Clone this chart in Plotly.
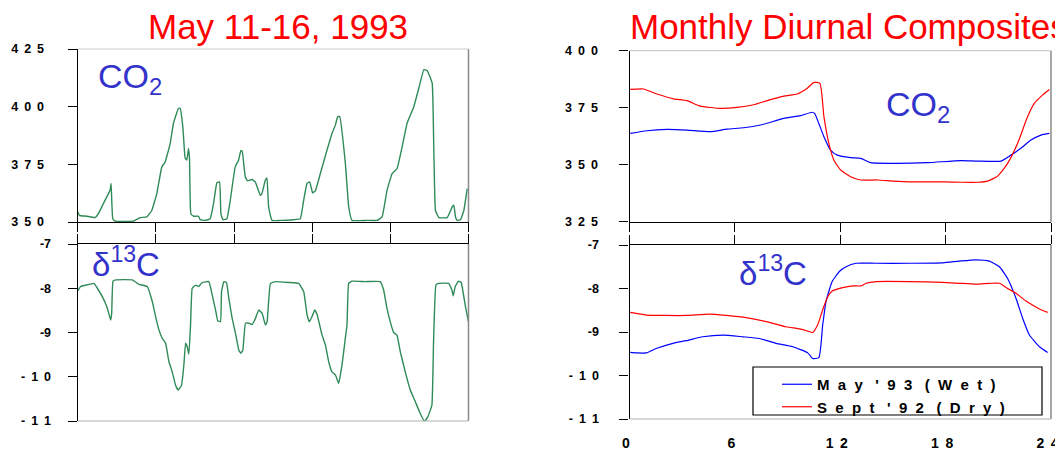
import plotly.graph_objects as go

# ---------------- data ----------------
# Left: May 11-16, 1993 time series (hours since start of May 11)
co2_hours = [0, 0.51, 2.77, 5.33, 6.35, 7.89, 9.94, 10.25, 10.76, 11.48, 17.11, 19.16, 21.21, 22.75,
             24.29, 25.83, 26.85, 28.39, 29.41, 30.95, 31.46, 32.28, 33.0, 33.51, 34.03, 34.33, 34.74,
             35.56, 37.1, 37.61, 39.15, 40.69, 41.71, 42.74, 43.56, 43.97, 44.58, 45.81, 46.84, 48.37,
             49.4, 50.11, 50.53, 51.45, 52.16, 53.5, 54.52, 56.06, 56.57, 57.6, 58.11, 58.62, 59.65,
             62.21, 66.31, 68.36, 69.38, 70.41, 71.23, 72.15, 72.97, 74.51, 76.56, 78.09, 79.12, 79.84,
             80.45, 82.19, 83.22, 84.24, 88.85, 91.93, 93.47, 95.0, 96.54, 98.08, 99.62, 101.15, 103.2,
             104.74, 106.28, 107.3, 108.84, 109.35, 109.86, 110.89, 113.45, 114.99, 115.5, 116.01,
             116.52, 117.55, 118.57, 119.6]
co2_may = [354.4, 352.9, 352.5, 351.9, 353.6, 358.0, 363.8, 366.7, 351.5, 350.4, 350.4, 351.9, 352.2, 355.0,
           362.3, 373.9, 376.0, 384.0, 392.8, 399.3, 399.3, 391.3, 377.6, 376.8, 381.9, 377.6, 353.6,
           352.5, 352.5, 351.0, 350.7, 351.4, 358.0, 367.0, 367.4, 353.6, 351.0, 351.4, 359.4, 373.9,
           376.8, 381.0, 380.6, 369.6, 367.8, 368.4, 367.4, 361.6, 362.3, 368.1, 369.1, 356.5, 350.7,
           350.7, 351.0, 351.4, 359.4, 366.7, 367.4, 362.6, 363.5, 371.0, 381.2, 388.4, 392.0, 395.7,
           395.7, 375.4, 356.5, 350.7, 350.7, 350.7, 352.2, 363.8, 371.0, 373.2, 382.6, 392.8, 400.0,
           408.0, 416.0, 415.7, 410.2, 381.2, 355.0, 351.9, 351.9, 356.5, 357.3, 352.2, 350.7,
           351.0, 355.0, 364.5]

d13c_hours = [0, 0.92, 2.45, 5.01, 6.03, 7.56, 9.10, 10.12, 10.43, 10.84, 11.65, 16.76, 18.81, 21.36,
              22.90, 23.92, 24.94, 25.96, 26.99, 28.01, 29.03, 30.05, 30.87, 31.89, 32.61, 33.12, 33.63,
              34.14, 34.65, 35.16, 36.19, 37.21, 38.23, 40.27, 41.30, 42.32, 43.03, 43.85, 44.16, 44.87,
              45.69, 46.41, 47.43, 48.45, 49.47, 50.09, 50.70, 51.52, 52.54, 53.56, 54.58, 55.61, 56.63,
              57.65, 58.16, 59.18, 60.72, 64.81, 67.87, 69.41, 70.43, 71.14, 71.96, 72.78, 73.49, 75.03,
              76.05, 77.07, 78.09, 79.12, 80.14, 81.16, 82.18, 82.69, 83.21, 84.23, 88.32, 92.92, 93.94,
              94.96, 95.98, 97.01, 98.03, 99.05, 100.58, 102.12, 103.65, 105.18, 106.51, 107.53, 108.76,
              109.27, 109.99, 110.81, 113.87, 114.89, 115.30, 115.92, 116.94, 117.76, 118.98, 120.0]
d13c_may = [-8.06, -7.96, -7.93, -7.89, -8.0, -8.19, -8.45, -8.72, -8.57, -7.84, -7.81, -7.81, -7.91, -7.96,
            -8.30, -8.64, -8.94, -9.13, -9.24, -9.66, -9.89, -10.19, -10.30, -10.19, -9.73, -9.24, -9.32,
            -9.49, -8.83, -8.0, -7.93, -7.96, -7.87, -7.85, -8.15, -8.49, -8.74, -8.75, -8.08, -7.85,
            -7.87, -8.23, -8.68, -9.02, -9.40, -9.47, -9.40, -8.79, -8.79, -8.82, -8.68, -8.49, -8.57,
            -8.83, -8.76, -7.89, -7.85, -7.87, -7.89, -8.08, -8.60, -8.76, -8.64, -8.49, -8.59, -9.06,
            -9.28, -9.66, -9.89, -9.96, -10.15, -9.73, -9.13, -8.83, -7.89, -7.84, -7.85, -7.85, -8.04,
            -8.45, -8.76, -9.0, -9.06, -9.43, -9.89, -10.30, -10.56, -10.83, -11.01, -10.90, -10.64,
            -9.21, -7.93, -7.89, -7.89, -8.04, -8.17, -7.96, -7.84, -7.87, -8.38, -8.76]

# Right: monthly diurnal composites (hour of day)
co2_wet_hour = [0.04, 0.99, 2.13, 3.27, 4.60, 5.55, 6.50, 7.46, 8.79, 9.74, 10.40, 10.54, 10.78, 11.07,
                11.45, 11.83, 12.59, 13.16, 13.73, 15.06, 16.96, 18.87, 19.82, 21.15, 21.72, 22.29,
                22.86, 23.43, 23.91]
co2_wet = [363.7, 364.9, 365.5, 365.2, 364.5, 365.6, 366.2, 367.4, 370.3, 371.5, 373.0, 372.5, 368.1, 362.3,
           356.4, 354.2, 353.1, 352.8, 350.9, 350.6, 350.9, 351.8, 351.6, 351.6, 354.2, 357.2,
           360.8, 363.0, 363.7]
co2_dry_hour = [0.04, 0.80, 1.56, 2.51, 3.27, 4.03, 5.17, 6.12, 7.07, 7.84, 8.79, 9.55, 10.12, 10.50,
                10.84, 11.07, 11.35, 11.64, 12.02, 12.59, 13.16, 14.11, 15.06, 16.01, 16.96, 17.92,
                18.87, 19.82, 20.39, 20.96, 21.53, 22.10, 22.67, 23.05, 23.53, 23.91]
co2_dry = [383.0, 383.2, 381.0, 378.9, 378.1, 375.7, 374.7, 375.1, 376.3, 378.1, 380.1, 381.0, 383.5, 386.1,
           385.7, 371.1, 359.4, 352.0, 347.7, 344.7, 343.3, 343.3, 342.8, 342.5, 342.5, 342.5,
           342.3, 342.3, 342.8, 345.0, 350.6, 359.4, 371.1, 376.9, 380.6, 383.0]

d13c_wet_hour = [0.04, 0.38, 0.95, 1.52, 2.47, 3.23, 4.17, 5.31, 6.45, 7.40, 8.35, 9.30, 10.15, 10.43,
                 10.78, 11.00, 11.19, 11.54, 11.95, 12.33, 12.90, 14.04, 15.94, 17.83, 18.78, 19.73,
                 20.49, 21.06, 21.53, 22.01, 22.39, 22.77, 23.34, 23.81]
d13c_wet = [-9.47, -9.48, -9.48, -9.38, -9.26, -9.20, -9.11, -9.07, -9.11, -9.15, -9.26, -9.34, -9.48, -9.61,
            -9.59, -8.84, -8.30, -7.84, -7.61, -7.50, -7.42, -7.42, -7.42, -7.41, -7.37, -7.34,
            -7.37, -7.50, -7.77, -8.23, -8.69, -9.07, -9.34, -9.47]
d13c_dry_hour = [0.04, 0.95, 2.09, 3.23, 4.55, 5.50, 6.64, 7.78, 8.92, 9.68, 10.15, 10.43, 10.71, 11.00,
                 11.29, 11.54, 12.14, 12.71, 13.19, 13.47, 14.04, 15.94, 17.83, 18.78, 19.73, 20.49,
                 21.06, 21.53, 22.01, 22.58, 23.34, 23.81]
d13c_dry = [-8.55, -8.61, -8.62, -8.62, -8.59, -8.62, -8.67, -8.76, -8.88, -8.93, -8.98, -9.01, -8.84, -8.49,
            -8.19, -8.06, -7.98, -7.94, -7.94, -7.88, -7.84, -7.84, -7.86, -7.88, -7.90, -7.88,
            -7.88, -8.0, -8.11, -8.29, -8.47, -8.55]

co2_left_ticks = [350, 375, 400, 425]
co2_left_text = ["350", "375", "400", "425"]
co2_right_ticks = [325, 350, 375, 400]
co2_right_text = ["325", "350", "375", "400"]
d13c_ticks = [-11, -10, -9, -8, -7]
d13c_text = ["-11", "-10", "-9", "-8", "-7"]
day_ticks = [0, 24, 48, 72, 96, 120]
hour_ticks = [0, 6, 12, 18, 24]
hour_text = ["0", "6", "12", "18", "24"]
legend_names = ["May '93 (Wet)", "Sept '92 (Dry)"]

NB = "\u00a0"
THIN = "\u2009"


def spaced(s, gap=1, wordgap=2):
    """Letter-spaced label text (as drawn in the original slide)."""
    words = s.split(" ")
    return (NB * wordgap).join((NB * gap).join(w) for w in words)


def spaced_num(s, sep=NB + THIN):
    # single-digit labels ("-7", "-8", "-9") stay tight, longer ones are letter-spaced
    if len(s.lstrip("-")) == 1:
        return s
    return sep.join(s)


# ---------------- styling ----------------
W, H = 1063, 451
OFF = 8  # page body margin in the browser
GREEN = "#2e8b57"
BLUE = "#0000ff"
RED = "#ff0000"
LABEL_BLUE = "#3333cc"
FAM = "Liberation Sans, Arial, sans-serif"
TICKFONT = dict(family=FAM, size=12.5, color="black", weight="bold")
XTICKFONT = dict(family=FAM, size=14, color="black", weight="bold")


def px_x(p):
    return (p - OFF) / W


def px_y(p):
    return 1 - (p - OFF) / H


fig = go.Figure()

fig.add_trace(go.Scatter(x=co2_hours, y=co2_may, mode="lines",
                         line=dict(color=GREEN, width=1.4, shape="spline", smoothing=0.3),
                         xaxis="x", yaxis="y", showlegend=False))
fig.add_trace(go.Scatter(x=d13c_hours, y=d13c_may, mode="lines",
                         line=dict(color=GREEN, width=1.4, shape="spline", smoothing=0.3),
                         xaxis="x2", yaxis="y2", showlegend=False))
fig.add_trace(go.Scatter(x=co2_wet_hour, y=co2_wet, mode="lines",
                         line=dict(color=BLUE, width=1.2, shape="spline", smoothing=0.5),
                         xaxis="x3", yaxis="y3", showlegend=False))
fig.add_trace(go.Scatter(x=co2_dry_hour, y=co2_dry, mode="lines",
                         line=dict(color=RED, width=1.2, shape="spline", smoothing=0.5),
                         xaxis="x3", yaxis="y3", showlegend=False))
fig.add_trace(go.Scatter(x=d13c_wet_hour, y=d13c_wet, mode="lines",
                         line=dict(color=BLUE, width=1.2, shape="spline", smoothing=0.5),
                         xaxis="x4", yaxis="y4", name=spaced(legend_names[0], 2, 3), showlegend=True))
fig.add_trace(go.Scatter(x=d13c_dry_hour, y=d13c_dry, mode="lines",
                         line=dict(color=RED, width=1.2, shape="spline", smoothing=0.5),
                         xaxis="x4", yaxis="y4", name=spaced(legend_names[1], 2, 3), showlegend=True))

L_dom = [px_x(77.7), px_x(468.5)]
R_dom = [px_x(629.5), px_x(1051)]
R_lab_dom = [px_x(626), px_x(1047.5)]  # hour labels sit slightly left of their ticks
LT_dom = [px_y(222), px_y(49)]
LB_dom = [px_y(421), px_y(244)]
RT_dom = [px_y(221.7), px_y(50.7)]
RB_dom = [px_y(419), px_y(245)]

axis_common = dict(showgrid=False, zeroline=False, showline=True, linecolor="black", linewidth=1.3,
                   ticks="outside", ticklen=9, tickcolor="black", tickwidth=1.3, tickfont=TICKFONT,
                   automargin=False, ticklabeloverflow="allow")

fig.update_layout(
    width=W, height=H, margin=dict(l=0, r=0, t=0, b=0, autoexpand=False),
    paper_bgcolor="white", plot_bgcolor="rgba(0,0,0,0)",
    font=dict(family=FAM),
    # left top
    xaxis=dict(domain=L_dom, anchor="y", range=[0, 120], tickvals=day_ticks, showticklabels=False,
               side="bottom", **axis_common),
    yaxis=dict(domain=LT_dom, anchor="x", range=[350, 425], tickvals=co2_left_ticks,
               ticktext=[spaced_num(t) for t in co2_left_text], ticklabelstandoff=21, **axis_common),
    # left bottom
    xaxis2=dict(domain=L_dom, anchor="y2", range=[0, 120], tickvals=day_ticks, showticklabels=False,
                side="top", **axis_common),
    yaxis2=dict(domain=LB_dom, anchor="x2", range=[-11, -7], tickvals=d13c_ticks,
                ticktext=[spaced_num(t) for t in d13c_text], ticklabelstandoff=14, **axis_common),
    # right top
    xaxis3=dict(domain=R_dom, anchor="y3", range=[0, 24], tickvals=hour_ticks, showticklabels=False,
                side="bottom", **axis_common),
    yaxis3=dict(domain=RT_dom, anchor="x3", range=[325, 400], tickvals=co2_right_ticks,
                ticktext=[spaced_num(t) for t in co2_right_text], ticklabelstandoff=19, **axis_common),
    # right bottom
    xaxis4=dict(domain=R_dom, anchor="y4", range=[0, 24], tickvals=hour_ticks, showticklabels=False,
                side="top", **axis_common),
    yaxis4=dict(domain=RB_dom, anchor="x4", range=[-11, -7], tickvals=d13c_ticks,
                ticktext=[spaced_num(t) for t in d13c_text], ticklabelstandoff=18, **axis_common),
    # hour labels under the right bottom panel (own axis so its domain can be nudged)
    xaxis5=dict(domain=R_lab_dom, anchor="y4", side="bottom", range=[0, 24],
                tickvals=hour_ticks, ticktext=[spaced_num(t, NB + THIN) for t in hour_text],
                showgrid=False, zeroline=False, showline=False, ticks="", ticklabelstandoff=14,
                tickfont=XTICKFONT, automargin=False, ticklabeloverflow="allow"),
    legend=dict(x=px_x(777), y=px_y(368), xanchor="left", yanchor="top", bgcolor="rgba(0,0,0,0)",
                borderwidth=0, font=dict(family=FAM, size=15, color="black", weight="bold"),
                tracegroupgap=0, itemwidth=30),
)

# invisible trace so the label axis under the right bottom panel is drawn
fig.add_trace(go.Scatter(x=[0, 24], y=[-11, -11], mode="lines", line=dict(width=0),
                         xaxis="x5", yaxis="y4", showlegend=False, hoverinfo="skip"))

# gray frames (top/right) around each panel
shapes = []
for xr, yr in [("x", "y"), ("x2", "y2"), ("x3", "y3"), ("x4", "y4")]:
    shapes.append(dict(type="line", xref=f"{xr} domain", yref=f"{yr} domain", x0=1, x1=1, y0=0, y1=1,
                       line=dict(color="#8a8a8a", width=1.5), layer="above"))
for xr, yr in [("x", "y"), ("x3", "y3")]:
    shapes.append(dict(type="line", xref=f"{xr} domain", yref=f"{yr} domain", x0=0, x1=1, y0=1, y1=1,
                       line=dict(color="#cccccc", width=1.2), layer="above"))
for xr, yr in [("x2", "y2"), ("x4", "y4")]:
    shapes.append(dict(type="line", xref=f"{xr} domain", yref=f"{yr} domain", x0=0, x1=1, y0=0, y1=0,
                       line=dict(color="#b0b0b0", width=1.2), layer="above"))
# legend box
shapes.append(dict(type="rect", xref="paper", yref="paper", x0=px_x(753), x1=px_x(1042),
                   y0=px_y(415), y1=px_y(367), line=dict(color="black", width=1.2),
                   fillcolor="rgba(0,0,0,0)", layer="above"))
fig.update_layout(shapes=shapes)

annotations = [
    dict(text="May 11-16, 1993", x=px_x(278), y=px_y(26), xref="paper", yref="paper",
         xanchor="center", yanchor="middle", showarrow=False,
         font=dict(size=35, color=RED, family=FAM)),
    dict(text="Monthly Diurnal Composites", x=px_x(628), y=px_y(26), xref="paper", yref="paper",
         xanchor="left", yanchor="middle", showarrow=False,
         font=dict(size=35, color=RED, family=FAM)),
    dict(text="CO<sub>2</sub>", x=px_x(96), y=px_y(78), xref="paper", yref="paper",
         xanchor="left", yanchor="middle", showarrow=False,
         font=dict(size=34, color=LABEL_BLUE, family=FAM)),
    dict(text="CO<sub>2</sub>", x=px_x(884), y=px_y(106), xref="paper", yref="paper",
         xanchor="left", yanchor="middle", showarrow=False,
         font=dict(size=34, color=LABEL_BLUE, family=FAM)),
    dict(text="δ<sup>13</sup>C", x=px_x(90), y=px_y(262), xref="paper", yref="paper",
         xanchor="left", yanchor="middle", showarrow=False,
         font=dict(size=33, color=LABEL_BLUE, family=FAM)),
    dict(text="δ<sup>13</sup>C", x=px_x(737), y=px_y(271), xref="paper", yref="paper",
         xanchor="left", yanchor="middle", showarrow=False,
         font=dict(size=33, color=LABEL_BLUE, family=FAM)),
]
fig.update_layout(annotations=annotations)

fig.write_html("out.html")
